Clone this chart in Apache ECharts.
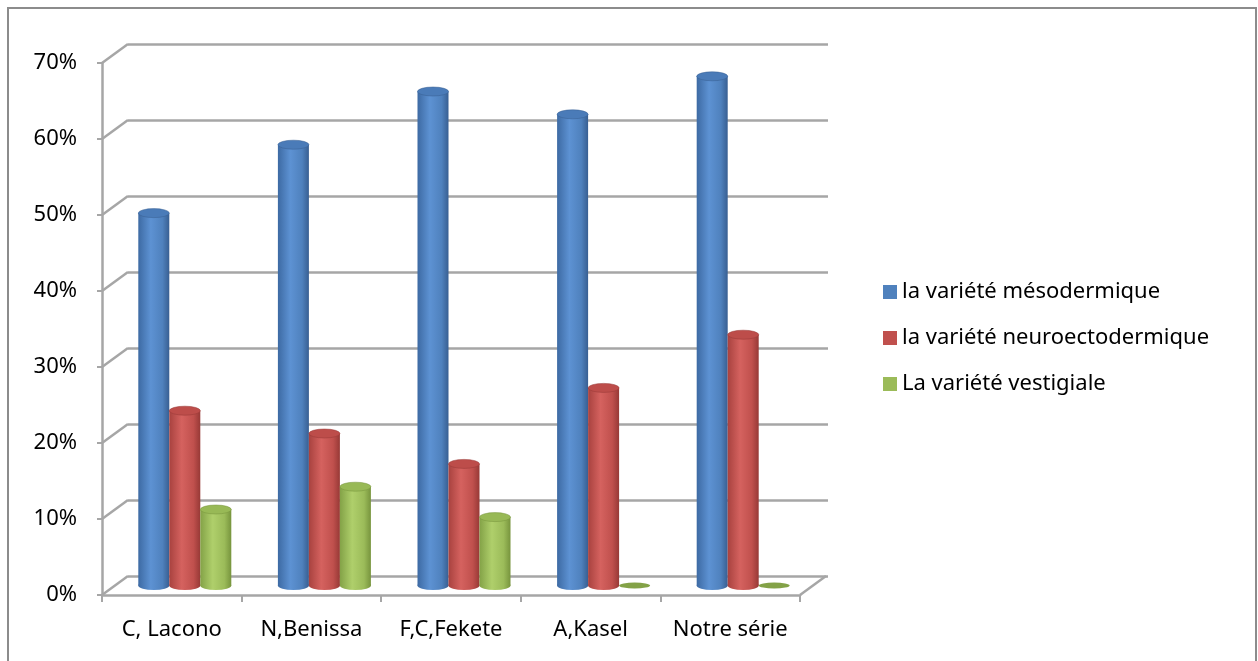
<!DOCTYPE html>
<html>
<head>
<meta charset="utf-8">
<script src="https://cdn.jsdelivr.net/npm/echarts@6/dist/echarts.min.js"></script>
<style>
  html, body { margin: 0; padding: 0; background: #fff; }
  #chart { width: 1258px; height: 661px; }
</style>
</head>
<body>
<div id="chart"></div>
<script>
// Categories (studies) and the share of each variety, in fractions
const categories = ['C, Lacono', 'N,Benissa', 'F,C,Fekete', 'A,Kasel', 'Notre série'];
const mesodermique = [0.49, 0.58, 0.65, 0.62, 0.67];
const neuroectodermique = [0.23, 0.20, 0.16, 0.26, 0.33];
const vestigiale = [0.10, 0.13, 0.09, 0.00, 0.00];
const seriesNames = ['la variété mésodermique', 'la variété neuroectodermique', 'La variété vestigiale'];
const yTicks = [0, 0.1, 0.2, 0.3, 0.4, 0.5, 0.6, 0.7];

const FONT = 'Noto Sans';
const FONT_SIZE = 22;
const GRID_COLOR = '#a6a6a6';
const DEPTH_X = 26, DEPTH_Y = -19;   // offset of the back wall
const BAR_W = 31;

// colour sets for each cylinder
const palettes = [
  { base: '#4f81bd', dark: '#3d6aa3', light: '#5d92d3', right: '#385f92', top: '#4a7bb8' },
  { base: '#c0504d', dark: '#a8423f', light: '#d5625f', right: '#973936', top: '#bd4d4a' },
  { base: '#9bbb59', dark: '#83a247', light: '#afcf6b', right: '#77943d', top: '#98b956' }
];

function cylinderRenderer(idx) {
  const p = palettes[idx];
  return function (params, api) {
    const cat = api.value(0), val = api.value(1);
    const base = api.coord([cat, 0]);
    const top = api.coord([cat, val]);
    const cx = base[0] + (idx - 1) * BAR_W;
    const rx = BAR_W / 2, ry = 4.5;
    const grad = new echarts.graphic.LinearGradient(0, 0, 1, 0, [
      { offset: 0, color: p.dark },
      { offset: 0.4, color: p.light },
      { offset: 0.78, color: p.base },
      { offset: 1, color: p.right }
    ]);
    const children = [];
    if (val > 0) {
      children.push({
        type: 'circle', x: cx, y: base[1], scaleY: ry / rx,
        shape: { cx: 0, cy: 0, r: rx }, style: { fill: grad }
      });
      children.push({
        type: 'rect',
        shape: { x: cx - rx, y: top[1], width: BAR_W, height: base[1] - top[1] },
        style: { fill: grad }
      });
      children.push({
        type: 'circle', x: cx, y: top[1], scaleY: ry / rx,
        shape: { cx: 0, cy: 0, r: rx },
        style: { fill: p.top, stroke: p.right, lineWidth: 0.8 }
      });
    } else {
      children.push({
        type: 'circle', x: cx, y: base[1], scaleY: 3 / rx,
        shape: { cx: 0, cy: 0, r: rx }, style: { fill: p.dark }
      });
    }
    return { type: 'group', children: children };
  };
}

const chart = echarts.init(document.getElementById('chart'), null, { renderer: 'canvas' });

const pctFmt = v => Math.round(v * 100) + '%';

const option = {
  backgroundColor: '#fff',
  animation: false,
  graphic: [{
    type: 'rect', shape: { x: 8, y: 8, width: 1248, height: 700 },
    style: { fill: 'none', stroke: '#8c8c8c', lineWidth: 2 }, z: -10
  }],
  legend: {
    orient: 'vertical', left: 878, top: 276,
    itemWidth: 14, itemHeight: 14, itemGap: 24, icon: 'rect',
    textStyle: { fontFamily: FONT, fontSize: FONT_SIZE, color: '#000' },
    data: seriesNames
  },
  grid: [
    { left: 102, top: 63, width: 698, height: 532 },   // front plane (axes)
    { left: 128, top: 44, width: 700, height: 532 },   // back wall (grid lines)
    { left: 115, top: 53.5, width: 698, height: 532 }  // mid depth (cylinders)
  ],
  xAxis: [
    {
      gridIndex: 0, type: 'category', data: categories,
      axisLine: { lineStyle: { color: GRID_COLOR, width: 2.5 } },
      axisTick: { show: true, interval: 0, length: 7, lineStyle: { color: GRID_COLOR, width: 2 } },
      axisLabel: { interval: 0, hideOverlap: false, fontFamily: FONT, fontSize: FONT_SIZE, color: '#000', margin: 24 }
    },
    { gridIndex: 1, type: 'category', data: categories, show: false },
    { gridIndex: 2, type: 'category', data: categories, show: false }
  ],
  yAxis: [
    {
      gridIndex: 0, type: 'value', min: 0, max: 0.7, interval: 0.1,
      axisLine: { show: true, lineStyle: { color: GRID_COLOR, width: 2.5 } },
      axisTick: { show: true, length: 5, lineStyle: { color: GRID_COLOR, width: 2 } },
      axisLabel: { fontFamily: FONT, fontSize: FONT_SIZE, color: '#000', margin: 25, formatter: pctFmt },
      splitLine: { show: false }
    },
    {
      gridIndex: 1, type: 'value', min: 0, max: 0.7, interval: 0.1,
      axisLine: { show: false }, axisTick: { show: false }, axisLabel: { show: false },
      splitLine: { show: true, lineStyle: { color: GRID_COLOR, width: 2.5 } }
    },
    {
      gridIndex: 2, type: 'value', min: 0, max: 0.7, interval: 0.1, show: false,
      splitLine: { show: false }
    }
  ],
  series: [
    {
      // side-wall diagonals joining the front axis to the back wall
      type: 'custom', xAxisIndex: 0, yAxisIndex: 0, silent: true, z: 1,
      data: yTicks.map(v => [0, v]),
      renderItem: function (params, api) {
        const cs = params.coordSys;
        const y = api.coord([0, api.value(1)])[1];
        const lines = [{
          type: 'line',
          shape: { x1: cs.x, y1: y, x2: cs.x + DEPTH_X, y2: y + DEPTH_Y },
          style: { stroke: GRID_COLOR, lineWidth: 2.5 }
        }];
        if (api.value(1) === 0) {
          lines.push({
            type: 'line',
            shape: { x1: cs.x + cs.width, y1: y, x2: cs.x + cs.width + DEPTH_X, y2: y + DEPTH_Y },
            style: { stroke: GRID_COLOR, lineWidth: 2.5 }
          });
        }
        return { type: 'group', children: lines };
      }
    },
    {
      name: seriesNames[0], type: 'custom', xAxisIndex: 2, yAxisIndex: 2, z: 5,
      itemStyle: { color: palettes[0].base },
      data: mesodermique.map((v, i) => [i, v]),
      renderItem: cylinderRenderer(0)
    },
    {
      name: seriesNames[1], type: 'custom', xAxisIndex: 2, yAxisIndex: 2, z: 5,
      itemStyle: { color: palettes[1].base },
      data: neuroectodermique.map((v, i) => [i, v]),
      renderItem: cylinderRenderer(1)
    },
    {
      name: seriesNames[2], type: 'custom', xAxisIndex: 2, yAxisIndex: 2, z: 5,
      itemStyle: { color: palettes[2].base },
      data: vestigiale.map((v, i) => [i, v]),
      renderItem: cylinderRenderer(2)
    }
  ]
};

chart.setOption(option);
</script>
</body>
</html>
